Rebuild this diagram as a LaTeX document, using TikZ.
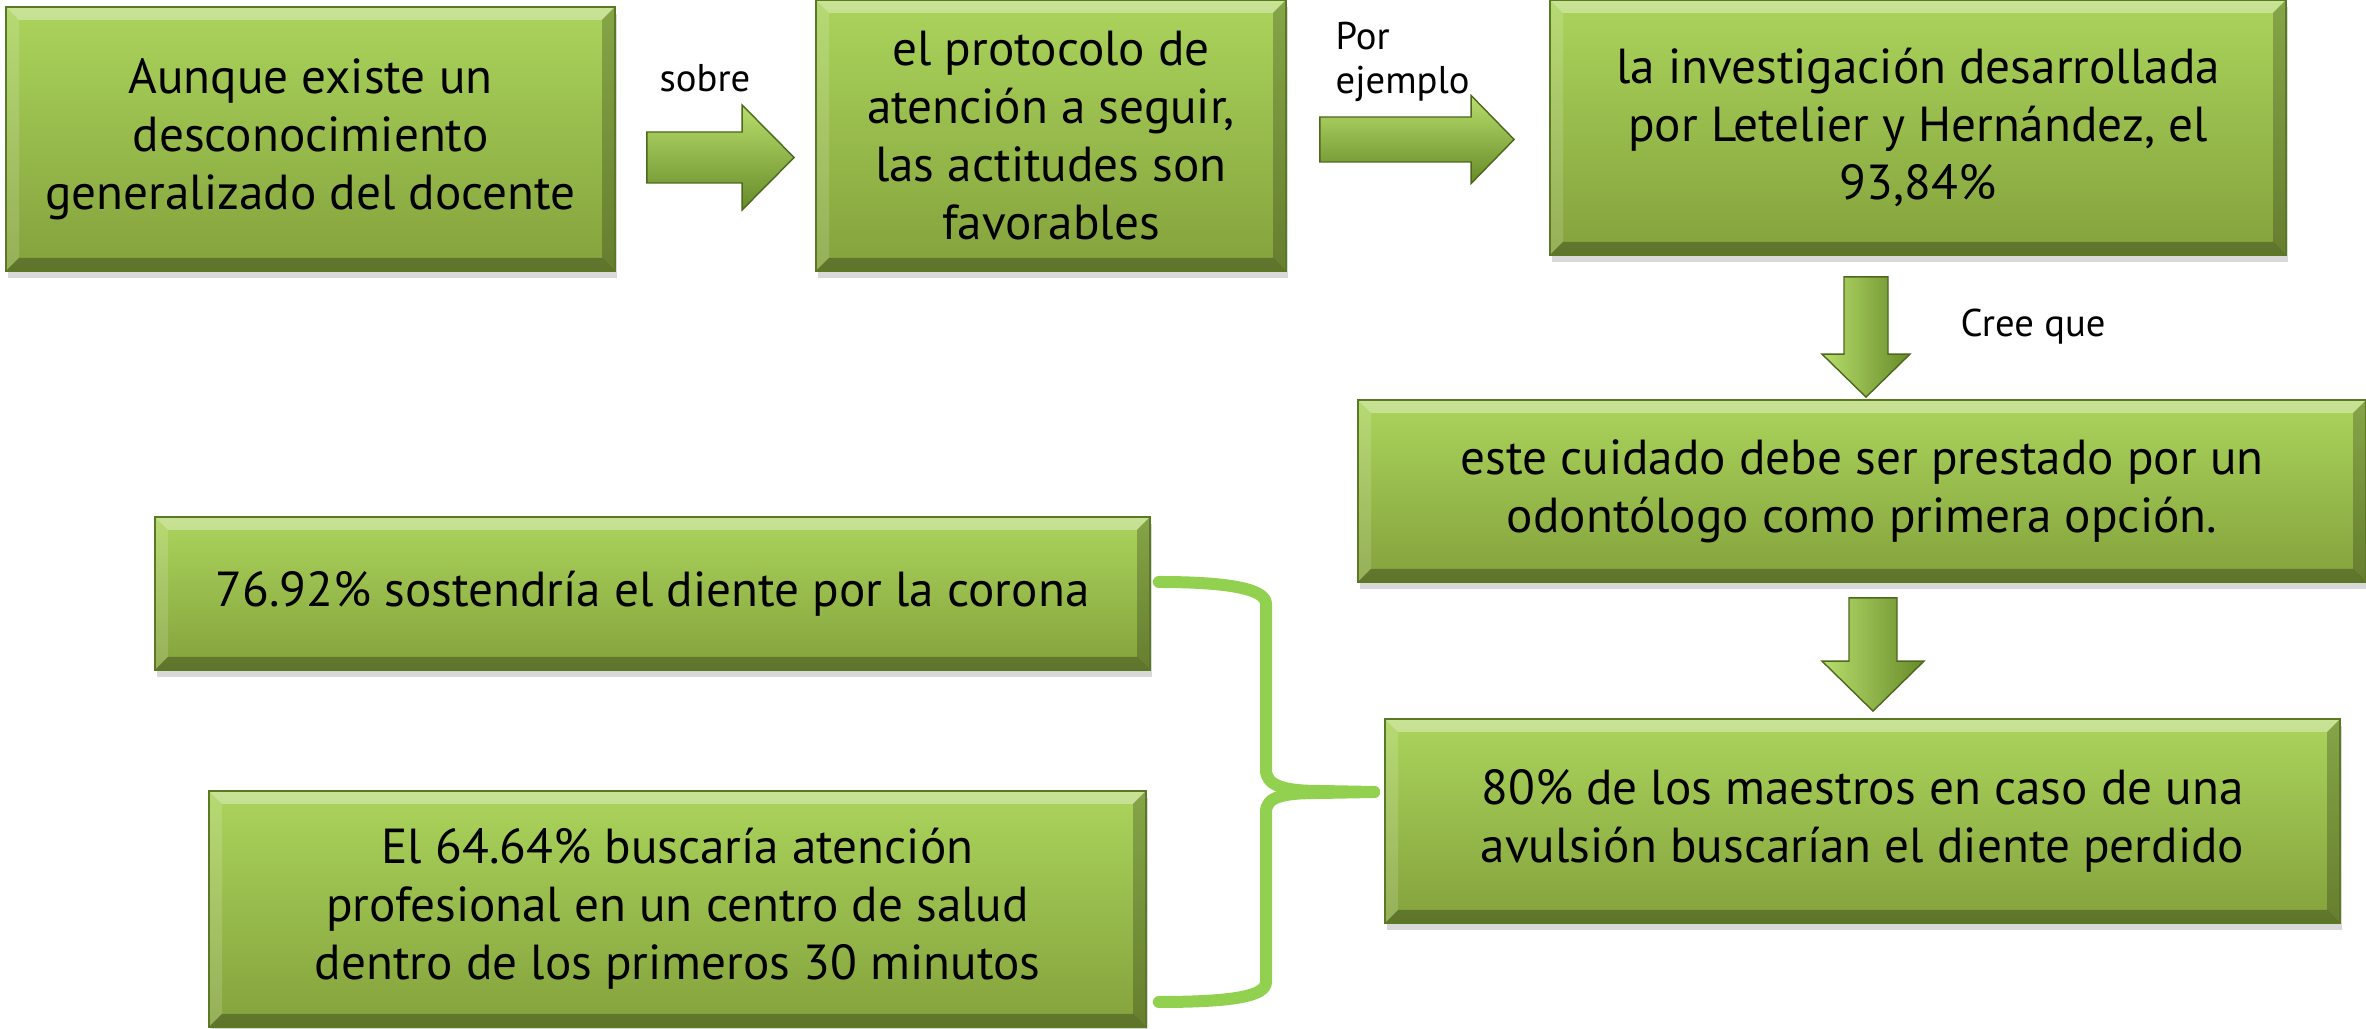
\documentclass[tikz,border=0pt]{standalone}
\usepackage{fontspec}
\setmainfont{PT Sans}
\usepackage{xcolor}
\usepackage{tikz}
\usetikzlibrary{calc,shadows}
\definecolor{boxtop}{HTML}{ABD45C}
\definecolor{boxbot}{HTML}{84A23C}
\definecolor{boxedge}{HTML}{5B7824}
\definecolor{arrhi}{HTML}{B8DE6C}
\definecolor{arrlo}{HTML}{678A28}
\definecolor{bracegreen}{HTML}{92D050}
% block arrows: start, tip, shaft half width, head half width, head length
\newcommand{\harrow}[5]{%
  \shade[arr, top color=arrhi, bottom color=arrlo]
    ($(#1)+(0,#3)$) -- ($(#2)+(-#5,#3)$) -- ($(#2)+(-#5,#4)$) -- (#2)
    -- ($(#2)+(-#5,-#4)$) -- ($(#2)+(-#5,-#3)$) -- ($(#1)+(0,-#3)$) -- cycle;}
\newcommand{\varrow}[5]{%
  \shade[arr, left color=arrhi, right color=arrlo]
    ($(#1)+(-#3,0)$) -- ($(#2)+(-#3,#5)$) -- ($(#2)+(-#4,#5)$) -- (#2)
    -- ($(#2)+(#4,#5)$) -- ($(#2)+(#3,#5)$) -- ($(#1)+(#3,0)$) -- cycle;}
\tikzset{
  bevel/.style={path picture={
    \path (path picture bounding box.south west) coordinate (bsw)
          (path picture bounding box.north east) coordinate (bne);
    \fill[white, opacity=0.35] (bsw |- bne) -- (bne) -- ($(bne)+(-0.13,-0.13)$) -- ($(bsw |- bne)+(0.13,-0.13)$) -- cycle;
    \fill[white, opacity=0.15] (bsw |- bne) -- ($(bsw |- bne)+(0.13,-0.13)$) -- ($(bsw)+(0.13,0.13)$) -- (bsw) -- cycle;
    \fill[black, opacity=0.22] (bne) -- ($(bne)+(-0.13,-0.13)$) -- ($(bne |- bsw)+(-0.13,0.13)$) -- (bne |- bsw) -- cycle;
    \fill[black, opacity=0.28] (bsw) -- ($(bsw)+(0.13,0.13)$) -- ($(bne |- bsw)+(-0.13,0.13)$) -- (bne |- bsw) -- cycle;
  }},
  box/.style={draw=boxedge, line width=0.5pt, top color=boxtop, bottom color=boxbot, bevel,
    drop shadow={shadow xshift=0.02cm, shadow yshift=-0.07cm, opacity=0.3},
    align=center, inner sep=0pt, font=\fontsize{14}{16.5}\selectfont},
  arr/.style={draw=arrlo!75!black, line width=0.4pt, line join=miter},
  lab/.style={inner sep=0pt, font=\fontsize{11}{12.5}\selectfont},
  brace/.style={draw=bracegreen, line width=0.12cm, line cap=round, line join=round},
}
\begin{document}
\begin{tikzpicture}
  \useasboundingbox (0,0) rectangle (23.66,-10.29);
  \node[box, minimum width=6.09cm, minimum height=2.64cm] (aunq) at (3.105,-1.39)
    {Aunque existe un\\desconocimiento\\generalizado del docente};
  \node[box, minimum width=4.70cm, minimum height=2.71cm] (prot) at (10.51,-1.355)
    {el protocolo de\\atención a seguir,\\las actitudes son\\favorables};
  \node[box, minimum width=7.36cm, minimum height=2.55cm] (inv) at (19.18,-1.275)
    {la investigación desarrollada\\por Letelier y Hernández, el\\93,84\%};
  \node[box, minimum width=10.08cm, minimum height=1.82cm] (cuid) at (18.62,-4.91)
    {este cuidado debe ser prestado por un\\odontólogo como primera opción.};
  \node[box, minimum width=9.55cm, minimum height=2.04cm] (avul) at (18.625,-8.21)
    {80\% de los maestros en caso de una\\avulsión buscarían el diente perdido};
  \node[box, minimum width=9.95cm, minimum height=1.53cm] (sost) at (6.525,-5.935)
    {76.92\% sostendría el diente por la corona};
  \node[box, minimum width=9.37cm, minimum height=2.36cm] (aten) at (6.775,-9.09)
    {El 64.64\% buscaría atención\\profesional en un centro de salud\\dentro de los primeros 30 minutos};

  \coordinate (s1) at ($(aunq.east)+(0.31,-0.185)$);
  \coordinate (e1) at ($(prot.west)+(-0.21,-0.22)$);
  \harrow{s1}{e1}{0.255}{0.525}{0.52}
  \coordinate (s2) at ($(prot.east)+(0.33,-0.04)$);
  \coordinate (e2) at ($(inv.west)+(-0.35,-0.12)$);
  \harrow{s2}{e2}{0.225}{0.44}{0.43}
  \coordinate (d1) at ($(inv.south)+(-0.52,-0.21)$);
  \coordinate (f1) at ($(cuid.north)+(0.04,0.02)$);
  \varrow{d1}{f1}{0.22}{0.44}{0.43}
  \coordinate (d2) at ($(cuid.south)+(0.11,-0.15)$);
  \coordinate (f2) at ($(avul.north)+(0.105,0.07)$);
  \varrow{d2}{f2}{0.24}{0.51}{0.50}

  \node[lab] (sobre) at (7.05,-0.78) {sobre};
  \node[lab, align=left, anchor=west] (porej) at (13.35,-0.615) {Por\\ejemplo};
  \node[lab] (cree) at (20.33,-3.27) {Cree que};

  \coordinate (bt) at ($(sost.east)+(0.08,0.115)$);
  \coordinate (bb) at ($(aten.east)+(0.12,-0.93)$);
  \coordinate (bk) at ($(avul.west)+(-0.10,0.29)$);
  \draw[brace] (bt) .. controls +(0.75,0) and +(0,0.14) .. (12.66,-6.04) -- (12.66,-7.70)
    .. controls +(0,-0.16) and +(-0.35,0) .. (13.2,-7.91) -- (bk);
  \draw[brace] (bk) -- (13.2,-7.93) .. controls +(-0.35,0) and +(0,0.16) .. (12.66,-8.12)
    -- (12.66,-9.82) .. controls +(0,-0.14) and +(0.75,0) .. (bb);
\end{tikzpicture}
\end{document}
